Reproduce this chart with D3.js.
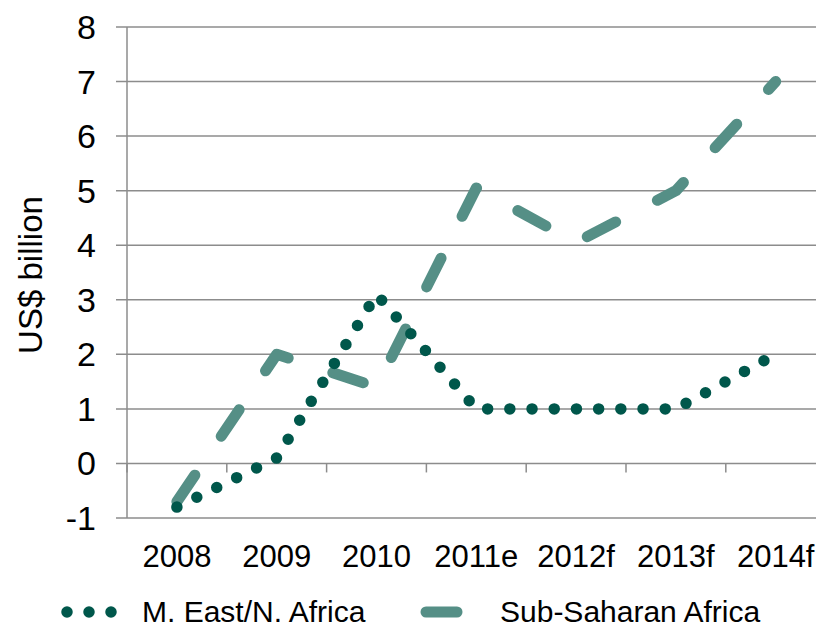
<!DOCTYPE html>
<html>
<head>
<meta charset="utf-8">
<script src="https://cdn.jsdelivr.net/npm/d3@7"></script>
<style>
  html, body { margin: 0; padding: 0; background: #fff; }
  svg { display: block; font-family: 'Liberation Sans', Arial, sans-serif; }
</style>
</head>
<body>
<div id="chart"></div>
<script>
(function() {
  'use strict';

  var categories = ['2008', '2009', '2010', '2011e', '2012f', '2013f', '2014f'];
  var menaValues = [-0.8, 0.1, 3.1, 1.0, 1.0, 1.0, 2.0];
  var ssaValues = [-0.7, 2.0, 1.4, 5.05, 4.05, 5.0, 7.0];
  var yTicks = [-1, 0, 1, 2, 3, 4, 5, 6, 7, 8];
  var seriesNames = ['M. East/N. Africa', 'Sub-Saharan Africa'];

  var width = 816, height = 629;
  var margin = { left: 127, top: 27, bottom: 518 };

  var svg = d3.select('#chart')
      .append('svg')
      .attr('width', width)
      .attr('height', height);

  var x = d3.scaleBand()
      .domain(categories)
      .range([margin.left, margin.left + 7 * 99.8]);

  var y = d3.scaleLinear()
      .domain([-1, 8])
      .range([margin.bottom, margin.top]);

  function cx(c) { return x(c) + x.bandwidth() / 2; }

  // gridlines
  svg.append('g')
    .selectAll('line')
    .data(yTicks)
    .enter().append('line')
      .attr('x1', margin.left - 11)
      .attr('x2', width + 20)
      .attr('y1', function(d) { return y(d); })
      .attr('y2', function(d) { return y(d); })
      .attr('stroke', '#8c8c8c')
      .attr('stroke-width', 1.5);

  // vertical axis
  svg.append('line')
    .attr('x1', margin.left).attr('x2', margin.left)
    .attr('y1', y(8)).attr('y2', y(-1))
    .attr('stroke', '#8c8c8c')
    .attr('stroke-width', 1.5);

  // category ticks hanging off the zero line
  svg.append('g')
    .selectAll('line')
    .data(categories)
    .enter().append('line')
      .attr('x1', function(d) { return x(d); })
      .attr('x2', function(d) { return x(d); })
      .attr('y1', y(0))
      .attr('y2', y(0) + 9)
      .attr('stroke', '#8c8c8c')
      .attr('stroke-width', 1.5);

  // y labels
  svg.append('g')
    .selectAll('text')
    .data(yTicks)
    .enter().append('text')
      .attr('x', 96)
      .attr('y', function(d) { return y(d) + 12; })
      .attr('text-anchor', 'end')
      .style('font-size', '34px')
      .text(function(d) { return d; });

  // x labels
  svg.append('g')
    .selectAll('text')
    .data(categories)
    .enter().append('text')
      .attr('x', function(d) { return cx(d); })
      .attr('y', 567)
      .attr('text-anchor', 'middle')
      .style('font-size', '31px')
      .text(function(d) { return d; });

  // axis title
  svg.append('text')
    .attr('transform', 'translate(42,275) rotate(-90)')
    .attr('text-anchor', 'middle')
    .style('font-size', '33px')
    .text('US$ billion');

  var line = d3.line()
      .x(function(d) { return cx(d.c); })
      .y(function(d) { return y(d.v); });

  function pairs(vals) {
    return categories.map(function(c, i) { return { c: c, v: vals[i] }; });
  }

  var styles = [
    { color: '#00574b', dash: '0 22.2' },
    { color: '#558f86', dash: '32 47' }
  ];

  svg.append('path')
    .datum(pairs(ssaValues))
    .attr('d', line)
    .attr('fill', 'none')
    .attr('stroke', styles[1].color)
    .attr('stroke-width', 11)
    .attr('stroke-linecap', 'round')
    .attr('stroke-linejoin', 'round')
    .attr('stroke-dasharray', styles[1].dash);

  svg.append('path')
    .datum(pairs(menaValues))
    .attr('d', line)
    .attr('fill', 'none')
    .attr('stroke', styles[0].color)
    .attr('stroke-width', 11.5)
    .attr('stroke-linecap', 'round')
    .attr('stroke-linejoin', 'round')
    .attr('stroke-dasharray', styles[0].dash);

  // legend
  var legend = svg.append('g');
  legend.append('line')
    .attr('x1', 67).attr('x2', 112)
    .attr('y1', 612).attr('y2', 612)
    .attr('stroke', styles[0].color)
    .attr('stroke-width', 11.5)
    .attr('stroke-linecap', 'round')
    .attr('stroke-dasharray', '0 22');
  legend.append('line')
    .attr('x1', 426).attr('x2', 457)
    .attr('y1', 612).attr('y2', 612)
    .attr('stroke', styles[1].color)
    .attr('stroke-width', 11)
    .attr('stroke-linecap', 'round');
  legend.selectAll('text')
    .data(seriesNames)
    .enter().append('text')
      .attr('x', function(d, i) { return i === 0 ? 142 : 500; })
      .attr('y', 622)
      .style('font-size', '30px')
      .text(function(d) { return d; });
})();
</script>
</body>
</html>
